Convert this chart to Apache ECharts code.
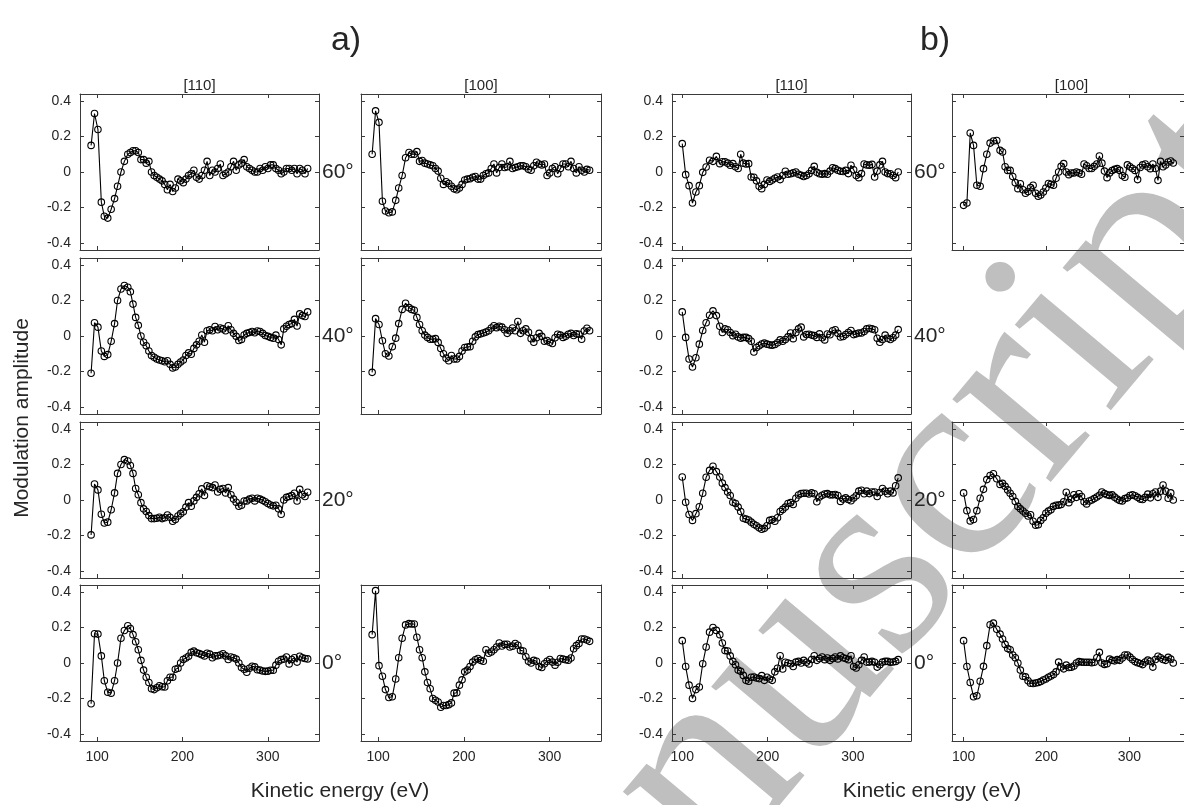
<!DOCTYPE html>
<html>
<head>
<meta charset="utf-8">
<script src="https://cdn.jsdelivr.net/npm/echarts@6.0.0/dist/echarts.min.js"></script>
<style>
  html, body { margin: 0; padding: 0; background: #fff; }
  #main { width: 1184px; height: 805px; }
</style>
</head>
<body>
<div id="main"></div>
<script>
// kinetic energies (eV)
var energyA = [93, 97, 101, 105, 108.5, 112.5, 116.5, 120.5, 124, 128, 132, 136,
  139, 142.1, 145.2, 148.3, 151.4, 154.5, 157.6, 160.7, 163.8, 166.9, 170, 173.1, 176.2, 179.3,
  182.4, 185.5, 188.6, 191.7, 194.8, 197.9, 201, 204.1, 207.2, 210.3, 213.4, 216.5, 219.6, 222.7,
  225.8, 228.9, 232, 235.1, 238.2, 241.3, 244.4, 247.5, 250.6, 253.7, 256.8, 259.9, 263, 266.1,
  269.2, 272.3, 275.4, 278.5, 281.6, 284.7, 287.8, 290.9, 294, 297.1, 300.2, 303.3, 306.4, 309.5,
  312.6, 315.7, 318.8, 321.9, 325, 328.1, 331.2, 334.3, 337.4, 340.5, 343.6, 346.7];
var energyB = [100, 104, 108, 112, 116, 120, 124, 128, 132, 136, 140, 144,
  147, 150.1, 153.2, 156.2, 159.3, 162.4, 165.5, 168.5, 171.6, 174.7, 177.8, 180.8, 183.9, 187,
  190.1, 193.1, 196.2, 199.3, 202.4, 205.4, 208.5, 211.6, 214.7, 217.7, 220.8, 223.9, 227, 230,
  233.1, 236.2, 239.3, 242.3, 245.4, 248.5, 251.6, 254.6, 257.7, 260.8, 263.9, 266.9, 270, 273.1,
  276.2, 279.2, 282.3, 285.4, 288.5, 291.5, 294.6, 297.7, 300.8, 303.8, 306.9, 310, 313.1, 316.1,
  319.2, 322.3, 325.4, 328.4, 331.5, 334.6, 337.7, 340.7, 343.8, 346.9, 350, 353];

// a) modulation amplitudes
var a110_60 = [0.15, 0.33, 0.24, -0.17, -0.25, -0.26, -0.21, -0.15, -0.08, 0.0, 0.06, 0.10,
  0.11, 0.12, 0.12, 0.11, 0.07, 0.07, 0.05, 0.06, 0.0, -0.02, -0.03, -0.04, -0.05, -0.07,
  -0.10, -0.07, -0.11, -0.09, -0.04, -0.05, -0.06, -0.04, -0.02, -0.01, 0.01, -0.03, -0.04, -0.02,
  0.01, 0.06, -0.02, 0.01, 0.0, 0.02, 0.045, -0.02, -0.01, 0.0, 0.03, 0.06, 0.01, 0.04,
  0.05, 0.07, 0.03, 0.02, 0.01, 0.0, 0.0, 0.02, 0.01, 0.03, 0.02, 0.04, 0.04, 0.02,
  0.01, -0.01, 0.0, 0.02, 0.02, 0.01, 0.02, -0.01, 0.02, 0.01, -0.01, 0.02];
var a110_40 = [-0.21, 0.075, 0.05, -0.085, -0.115, -0.105, -0.03, 0.07, 0.2, 0.265, 0.285, 0.275,
  0.25, 0.18, 0.105, 0.06, 0.0, -0.035, -0.055, -0.085, -0.11, -0.12, -0.13, -0.135, -0.14, -0.145,
  -0.14, -0.16, -0.18, -0.175, -0.16, -0.147, -0.135, -0.11, -0.095, -0.103, -0.07, -0.05, -0.03, 0.006,
  -0.035, 0.03, 0.035, 0.03, 0.054, 0.035, 0.045, 0.04, 0.03, 0.058, 0.035, 0.015, -0.002, -0.025,
  -0.02, 0.006, 0.015, 0.02, 0.025, 0.018, 0.028, 0.025, 0.015, 0.003, -0.002, -0.008, -0.012, 0.005,
  -0.02, -0.05, 0.04, 0.055, 0.065, 0.07, 0.094, 0.056, 0.125, 0.115, 0.11, 0.136];
var a110_20 = [-0.197, 0.09, 0.057, -0.08, -0.13, -0.125, -0.055, 0.04, 0.15, 0.2, 0.228, 0.22,
  0.195, 0.15, 0.065, 0.03, -0.015, -0.05, -0.065, -0.088, -0.105, -0.105, -0.103, -0.097, -0.105, -0.1,
  -0.085, -0.098, -0.12, -0.11, -0.09, -0.077, -0.066, -0.04, -0.015, -0.035, -0.005, 0.015, 0.035, 0.063,
  0.025, 0.08, 0.075, 0.07, 0.085, 0.045, 0.06, 0.065, 0.04, 0.07, 0.03, 0.005, -0.013, -0.035,
  -0.03, -0.006, -0.005, 0.005, 0.01, -0.005, 0.01, 0.005, -0.002, -0.01, -0.02, -0.028, -0.033, -0.03,
  -0.05, -0.08, 0.0, 0.015, 0.02, 0.025, 0.038, -0.006, 0.06, 0.03, 0.02, 0.044];
var a110_0 = [-0.23, 0.165, 0.163, 0.04, -0.1, -0.165, -0.17, -0.1, 0.0, 0.14, 0.183, 0.21,
  0.195, 0.16, 0.12, 0.075, 0.015, -0.04, -0.08, -0.11, -0.145, -0.15, -0.14, -0.128, -0.134, -0.135,
  -0.1, -0.08, -0.08, -0.035, -0.03, 0.0, 0.02, 0.028, 0.038, 0.06, 0.067, 0.058, 0.053, 0.047,
  0.04, 0.055, 0.05, 0.03, 0.04, 0.041, 0.045, 0.052, 0.04, 0.02, 0.034, 0.03, 0.022, 0.0,
  -0.025, -0.035, -0.052, -0.03, -0.018, -0.022, -0.038, -0.04, -0.045, -0.047, -0.046, -0.041, -0.041, -0.012,
  0.01, 0.019, 0.022, 0.034, -0.005, 0.02, 0.03, 0.005, 0.038, 0.03, 0.025, 0.023];
var a100_60 = [0.10, 0.345, 0.28, -0.165, -0.22, -0.23, -0.225, -0.16, -0.09, -0.02, 0.08, 0.11,
  0.10, 0.10, 0.115, 0.06, 0.065, 0.05, 0.045, 0.04, 0.035, 0.02, 0.005, -0.035, -0.07, -0.055,
  -0.065, -0.08, -0.095, -0.10, -0.09, -0.07, -0.045, -0.04, -0.038, -0.03, -0.025, -0.04, -0.04, -0.02,
  -0.01, -0.005, 0.02, 0.045, -0.005, 0.025, 0.045, 0.025, 0.03, 0.06, 0.02, 0.025, 0.03, 0.035,
  0.035, 0.03, 0.015, 0.01, 0.035, 0.055, 0.045, 0.04, 0.045, -0.02, -0.005, 0.02, 0.03, -0.01,
  0.02, 0.045, 0.045, 0.03, 0.06, 0.02, -0.005, 0.03, 0.01, 0.0, 0.015, 0.01];
var a100_40 = [-0.205, 0.098, 0.065, -0.027, -0.10, -0.113, -0.06, -0.012, 0.07, 0.15, 0.185, 0.16,
  0.15, 0.145, 0.105, 0.065, 0.03, 0.005, -0.008, -0.018, -0.018, -0.015, -0.036, -0.07, -0.10, -0.125,
  -0.14, -0.11, -0.13, -0.13, -0.115, -0.085, -0.065, -0.062, -0.06, -0.03, -0.005, 0.008, 0.012, 0.017,
  0.022, 0.03, 0.045, 0.058, 0.047, 0.055, 0.05, 0.035, 0.015, 0.03, 0.045, 0.03, 0.082, 0.015,
  0.03, 0.04, 0.021, -0.015, -0.035, -0.01, 0.015, -0.002, -0.03, -0.025, -0.035, -0.042, -0.01, 0.01,
  0.005, -0.008, -0.002, 0.01, 0.015, 0.003, 0.012, 0.01, -0.018, 0.028, 0.044, 0.03];
var a100_0 = [0.16, 0.408, -0.015, -0.075, -0.15, -0.195, -0.19, -0.09, 0.03, 0.14, 0.215, 0.222,
  0.22, 0.22, 0.145, 0.075, 0.03, -0.05, -0.11, -0.145, -0.2, -0.21, -0.22, -0.25, -0.24, -0.24,
  -0.235, -0.225, -0.17, -0.168, -0.125, -0.095, -0.05, -0.04, -0.02, 0.005, 0.018, 0.025, 0.015, 0.01,
  0.075, 0.055, 0.062, 0.075, 0.09, 0.113, 0.096, 0.105, 0.106, 0.09, 0.095, 0.11, 0.1, 0.071,
  0.068, 0.035, 0.01, 0.0, 0.015, 0.01, -0.02, -0.025, -0.004, 0.01, 0.02, 0.005, -0.012, 0.004,
  0.025, 0.022, 0.018, 0.016, 0.028, 0.08, 0.098, 0.11, 0.135, 0.135, 0.13, 0.122];

// b) modulation amplitudes
var b110_60 = [0.16, -0.015, -0.077, -0.175, -0.113, -0.077, -0.002, 0.028, 0.066, 0.06, 0.088, 0.047,
  0.058, 0.058, 0.05, 0.038, 0.047, 0.03, 0.02, 0.1, 0.05, 0.045, 0.047, -0.028, -0.03, -0.05,
  -0.08, -0.094, -0.07, -0.045, -0.053, -0.045, -0.035, -0.028, -0.043, -0.02, 0.004, -0.013, -0.01, -0.005,
  0.0, -0.013, -0.019, -0.025, -0.02, -0.01, 0.009, 0.032, -0.002, -0.01, -0.013, -0.009, -0.013, 0.005,
  0.024, 0.019, 0.01, 0.004, 0.003, 0.009, -0.009, 0.038, 0.013, -0.02, -0.032, -0.009, 0.045, 0.04,
  0.038, 0.043, -0.028, 0.005, 0.04, 0.06, 0.0, -0.009, -0.01, -0.02, -0.032, 0.0];
var b110_40 = [0.136, -0.008, -0.13, -0.175, -0.123, -0.046, 0.031, 0.075, 0.117, 0.142, 0.115, 0.055,
  0.02, 0.04, 0.035, 0.02, 0.002, 0.01, -0.005, -0.012, -0.008, -0.008, -0.015, -0.03, -0.09, -0.065,
  -0.055, -0.045, -0.04, -0.046, -0.05, -0.052, -0.048, -0.038, -0.022, -0.03, -0.02, -0.005, 0.017, -0.015,
  0.02, 0.04, 0.05, -0.005, 0.008, 0.01, 0.005, 0.002, -0.008, 0.012, -0.01, -0.022, 0.011, 0.007,
  0.03, 0.035, 0.015, -0.006, -0.003, 0.008, 0.02, 0.031, 0.008, 0.012, 0.017, 0.017, 0.025, 0.04,
  0.044, 0.04, 0.035, -0.013, -0.035, -0.02, 0.005, -0.013, -0.02, -0.01, 0.005, 0.036];
var b110_20 = [0.13, -0.013, -0.082, -0.115, -0.077, -0.038, 0.038, 0.128, 0.167, 0.19, 0.16, 0.13,
  0.095, 0.07, 0.045, 0.025, -0.013, -0.02, -0.04, -0.065, -0.103, -0.108, -0.113, -0.125, -0.137, -0.145,
  -0.157, -0.165, -0.16, -0.145, -0.115, -0.11, -0.12, -0.1, -0.065, -0.053, -0.04, -0.02, -0.015, -0.025,
  0.01, 0.028, 0.036, 0.038, 0.038, 0.034, 0.04, 0.035, -0.01, 0.017, 0.027, 0.034, 0.036, 0.029,
  0.029, 0.031, 0.025, -0.008, 0.005, 0.012, 0.003, -0.004, 0.011, 0.024, 0.05, 0.055, 0.035, 0.05,
  0.036, 0.045, 0.045, 0.02, 0.042, 0.065, 0.05, 0.035, 0.05, 0.04, 0.08, 0.125];
var b110_0 = [0.126, -0.02, -0.125, -0.2, -0.15, -0.135, -0.004, 0.09, 0.174, 0.2, 0.184, 0.16,
  0.113, 0.07, 0.068, 0.04, 0.009, -0.01, -0.04, -0.047, -0.07, -0.098, -0.103, -0.08, -0.079, -0.085,
  -0.088, -0.071, -0.098, -0.08, -0.09, -0.098, -0.05, -0.03, 0.041, -0.034, 0.004, 0.0, -0.004, -0.02,
  0.005, 0.009, 0.0, 0.015, 0.004, -0.005, 0.02, 0.041, 0.015, 0.025, 0.034, 0.019, 0.028, 0.015,
  0.025, 0.034, 0.023, 0.04, 0.03, 0.025, 0.019, 0.041, -0.02, -0.028, -0.01, 0.015, 0.034, 0.005,
  0.005, 0.009, 0.004, -0.023, -0.01, 0.005, 0.009, 0.009, 0.004, 0.006, 0.009, 0.019];
var b100_60 = [-0.188, -0.175, 0.22, 0.15, -0.075, -0.08, 0.019, 0.1, 0.163, 0.175, 0.178, 0.122,
  0.113, 0.03, 0.009, 0.009, -0.025, -0.06, -0.094, -0.066, -0.1, -0.12, -0.11, -0.088, -0.075, -0.12,
  -0.137, -0.13, -0.113, -0.09, -0.065, -0.07, -0.075, -0.035, 0.0, 0.032, 0.047, 0.0, -0.015, -0.006,
  -0.006, 0.0, -0.005, -0.013, 0.045, 0.035, 0.02, 0.02, 0.032, 0.045, 0.09, 0.05, 0.005, -0.032,
  -0.005, 0.008, 0.015, 0.019, 0.009, -0.02, -0.03, 0.04, 0.03, 0.02, 0.009, -0.043, 0.025, 0.04,
  0.045, 0.03, 0.019, 0.045, 0.02, -0.047, 0.06, 0.03, 0.04, 0.056, 0.062, 0.051];
var b100_20 = [0.04, -0.06, -0.118, -0.11, -0.06, 0.01, 0.06, 0.115, 0.138, 0.148, 0.12, 0.088,
  0.094, 0.077, 0.057, 0.038, 0.02, -0.008, -0.036, -0.05, -0.062, -0.075, -0.09, -0.083, -0.12, -0.142,
  -0.14, -0.115, -0.1, -0.075, -0.063, -0.055, -0.036, -0.03, -0.029, -0.025, -0.01, 0.044, -0.015, 0.005,
  0.03, 0.015, 0.035, 0.02, -0.01, -0.022, -0.006, 0.0, 0.008, 0.017, 0.027, 0.045, 0.036, 0.03,
  0.026, 0.029, 0.016, 0.005, -0.003, -0.005, 0.008, 0.012, 0.025, 0.03, 0.024, 0.015, 0.005, 0.003,
  0.015, 0.033, 0.012, 0.035, 0.045, 0.015, 0.05, 0.085, 0.05, 0.01, 0.04, 0.0];
var b100_0 = [0.126, -0.02, -0.11, -0.19, -0.185, -0.103, -0.019, 0.098, 0.216, 0.225, 0.19, 0.163,
  0.135, 0.105, 0.082, 0.075, 0.045, 0.03, 0.0, -0.04, -0.075, -0.078, -0.1, -0.114, -0.116, -0.113,
  -0.11, -0.104, -0.096, -0.09, -0.08, -0.073, -0.065, -0.05, 0.005, -0.022, -0.033, -0.012, -0.025, -0.024,
  -0.017, 0.0, 0.008, 0.005, 0.004, 0.004, 0.004, 0.002, 0.004, 0.03, 0.06, 0.0, -0.008, -0.004,
  0.022, 0.015, 0.012, 0.019, 0.015, 0.028, 0.045, 0.045, 0.033, 0.02, 0.008, 0.002, -0.003, -0.009,
  0.006, 0.016, 0.01, -0.023, 0.02, 0.038, 0.03, 0.02, 0.015, 0.032, 0.022, 0.0];

var xTicks = [100, 200, 300];
var yTicks = [-0.4, -0.2, 0, 0.2, 0.4];
var rowNames = ['60°', '40°', '20°', '0°'];
var colNames = ['[110]', '[100]', '[110]', '[100]'];

// layout (pixels)
var colLeft = [80, 361, 672, 952];
var colWidth = [239, 240, 239, 239];
var rowTop = [94, 258, 422, 585];
var rowHeight = 156;
var xRange = [[80, 360], [80, 360], [88, 368], [86, 366]];

var panels = [
  {col: 0, row: 0, x: energyA, y: a110_60},
  {col: 0, row: 1, x: energyA, y: a110_40},
  {col: 0, row: 2, x: energyA, y: a110_20},
  {col: 0, row: 3, x: energyA, y: a110_0},
  {col: 1, row: 0, x: energyA, y: a100_60},
  {col: 1, row: 1, x: energyA, y: a100_40},
  {col: 1, row: 3, x: energyA, y: a100_0},
  {col: 2, row: 0, x: energyB, y: b110_60},
  {col: 2, row: 1, x: energyB, y: b110_40},
  {col: 2, row: 2, x: energyB, y: b110_20},
  {col: 2, row: 3, x: energyB, y: b110_0},
  {col: 3, row: 0, x: energyB, y: b100_60},
  {col: 3, row: 2, x: energyB, y: b100_20},
  {col: 3, row: 3, x: energyB, y: b100_0}
];

var axisColor = '#3a3a3a';
var labelFont = 'Liberation Sans';

var grids = [], xAxes = [], yAxes = [], series = [];
panels.forEach(function(p, i) {
  grids.push({
    left: colLeft[p.col], top: rowTop[p.row],
    width: colWidth[p.col], height: rowHeight,
    containLabel: false
  });
  var showX = p.row === 3;
  var showY = p.col === 0 || p.col === 2;
  var base = {
    type: 'value',
    gridIndex: i,
    z: 2,
    splitLine: {show: false},
    axisLine: {show: true, onZero: false, lineStyle: {color: axisColor, width: 1}},
    axisTick: {show: true, inside: true, length: 4, lineStyle: {color: axisColor}}
  };
  xAxes.push(echarts.util.merge({
    position: 'bottom',
    min: xRange[p.col][0], max: xRange[p.col][1],
    axisTick: {customValues: xTicks},
    axisLabel: {show: showX, customValues: xTicks, margin: 9,
      color: '#262626', fontSize: 14, fontFamily: labelFont}
  }, base, false));
  xAxes.push(echarts.util.merge({
    position: 'top',
    min: xRange[p.col][0], max: xRange[p.col][1],
    axisTick: {customValues: xTicks},
    axisLabel: {show: false}
  }, base, false));
  yAxes.push(echarts.util.merge({
    position: 'left',
    min: -0.44, max: 0.44,
    axisTick: {customValues: yTicks},
    axisLabel: {show: showY, customValues: yTicks, margin: 9,
      color: '#262626', fontSize: 14, fontFamily: labelFont}
  }, base, false));
  yAxes.push(echarts.util.merge({
    position: 'right',
    min: -0.44, max: 0.44,
    axisTick: {customValues: yTicks},
    axisLabel: {show: false}
  }, base, false));
  series.push({
    type: 'line',
    xAxisIndex: 2 * i,
    yAxisIndex: 2 * i,
    data: p.x.map(function(e, k) { return [e, p.y[k]]; }),
    symbol: 'circle',
    symbolSize: 6.5,
    showAllSymbol: true,
    itemStyle: {color: 'transparent', borderColor: '#000', borderWidth: 1.1},
    lineStyle: {color: '#000', width: 1.1},
    emphasis: {disabled: true},
    z: 3,
    silent: true
  });
});

function txt(text, x, y, size, opts) {
  var o = {
    type: 'text', x: x, y: y, z: 5,
    style: {text: text, fontSize: size, fontFamily: labelFont, fill: '#262626',
      textAlign: 'center', textVerticalAlign: 'middle'}
  };
  if (opts) echarts.util.merge(o, opts, true);
  return o;
}

var graphics = [];
graphics.push(txt('a)', 346, 41, 34));
graphics.push(txt('b)', 935, 41, 34));
colNames.forEach(function(n, c) {
  graphics.push(txt(n, colLeft[c] + colWidth[c] / 2, 86, 15));
});
rowNames.forEach(function(n, r) {
  var yMid = rowTop[r] + rowHeight / 2;
  graphics.push(txt(n, 322, yMid, 21, {style: {textAlign: 'left'}}));
  graphics.push(txt(n, 914, yMid, 21, {style: {textAlign: 'left'}}));
});
graphics.push(txt('Modulation amplitude', 22, 418, 21, {rotation: Math.PI / 2}));
graphics.push(txt('Kinetic energy (eV)', 340, 791, 21));
graphics.push(txt('Kinetic energy (eV)', 932, 791, 21));
// watermark
graphics.push({
  type: 'text', x: 421, y: 1118, z: 1, rotation: 50 * Math.PI / 180,
  style: {text: 'Manuscript', fontSize: 280, fontFamily: 'Liberation Serif',
    fill: '#bfbfbf', textAlign: 'left', textVerticalAlign: 'middle'}
});

var chart = echarts.init(document.getElementById('main'), null, {renderer: 'canvas'});
chart.setOption({
  animation: false,
  backgroundColor: '#fff',
  grid: grids,
  xAxis: xAxes,
  yAxis: yAxes,
  series: series,
  graphic: {elements: graphics}
});
</script>
</body>
</html>
